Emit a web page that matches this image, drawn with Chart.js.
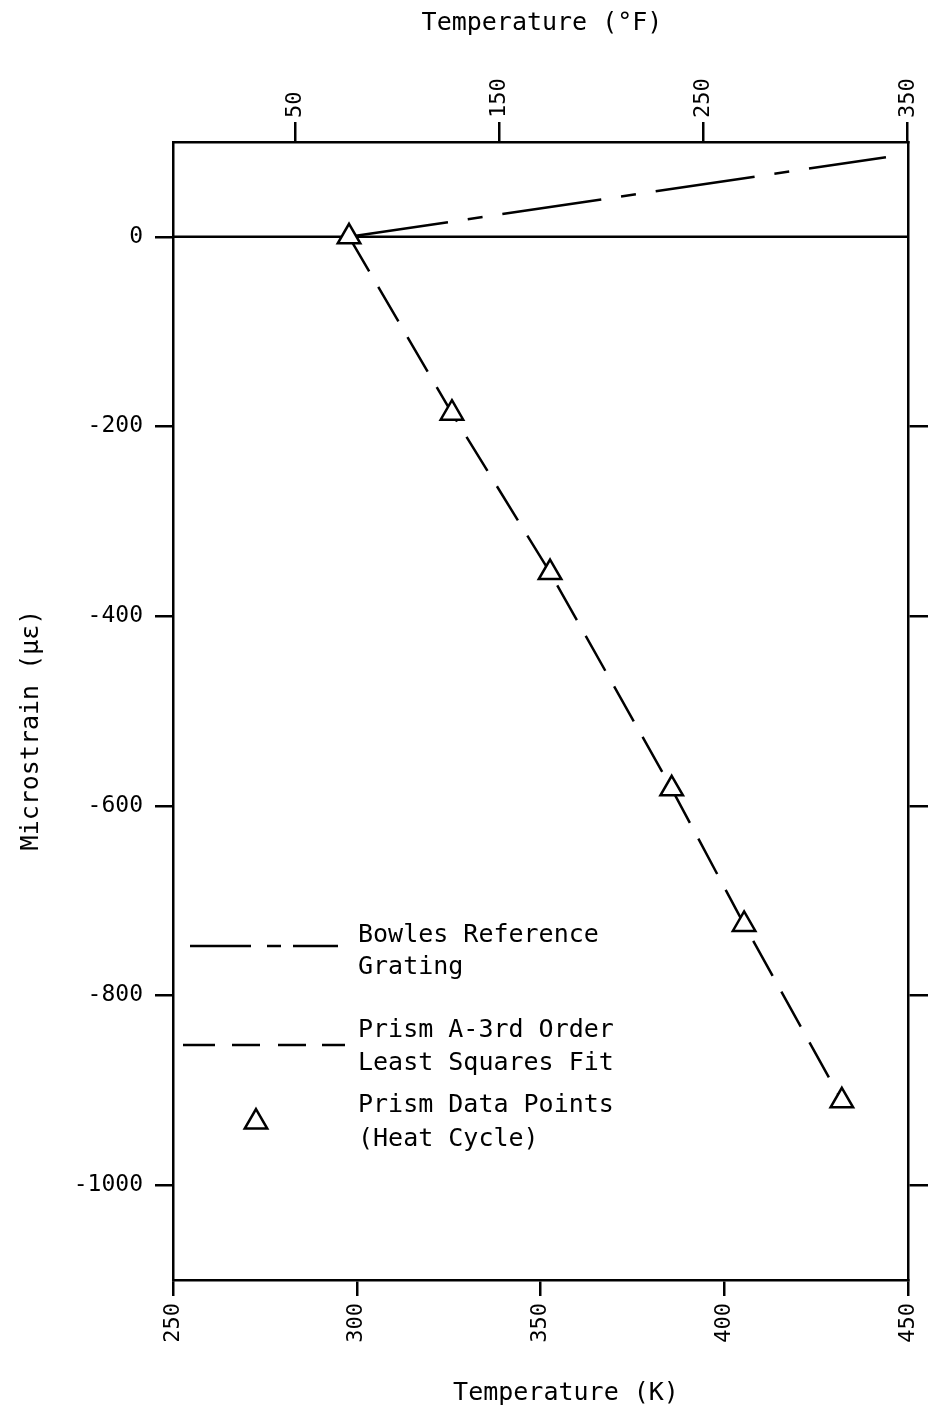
<!DOCTYPE html>
<html>
<head>
<meta charset="utf-8">
<script src="https://cdn.jsdelivr.net/npm/chart.js@4/dist/chart.umd.min.js"></script>
<style>
  html, body { margin: 0; padding: 0; background: #fff; }
  #wrap { width: 928px; height: 1413px; }
</style>
</head>
<body>
<div id="wrap"><canvas id="c" width="928" height="1413"></canvas></div>
<script>
// ---- data ----
const prismK      = [297.9, 325.9, 352.6, 385.7, 405.4, 432.0];
const prismStrain = [0, -186, -354, -582, -725, -911];

const fitK        = [297.9, 325.9, 352.6, 385.7, 405.4, 432.0];
const fitStrain   = [0, -186, -354, -582, -725, -911];

const bowlesK      = [297.9, 444.0];
const bowlesStrain = [0, 84];

const zeroK      = [250, 450];
const zeroStrain = [0, 0];

const yTicksLeft  = [0, -200, -400, -600, -800, -1000];
const yTicksRight = [-200, -400, -600, -800, -1000];
const xTicksK     = [250, 300, 350, 400, 450];
const xTicksF     = [50, 150, 250, 350];

const xTitleBottom = 'Temperature (K)';
const xTitleTop    = 'Temperature (°F)';
const yTitle       = 'Microstrain (με)';
const legendItems  = [
  ['Bowles Reference', 'Grating'],
  ['Prism A-3rd Order', 'Least Squares Fit'],
  ['Prism Data Points', '(Heat Cycle)']
];

const K_MIN = 250, K_MAX = 450;
const kToF = k => (k - 273.15) * 9 / 5 + 32;

const FONT = '"DejaVu Sans Mono", "Liberation Mono", monospace';
const pts = (xs, ys) => xs.map((x, i) => ({ x: x, y: ys[i] }));

const decor = {
  id: 'decor',
  afterDraw(chart) {
    const ctx = chart.ctx;
    ctx.save();
    ctx.fillStyle = '#000';
    ctx.strokeStyle = '#000';
    ctx.font = '25px ' + FONT;
    ctx.textBaseline = 'middle';
    // axis titles
    ctx.textAlign = 'center';
    ctx.fillText(xTitleTop, 542, 23);
    ctx.fillText(xTitleBottom, 566, 1393);
    ctx.save();
    ctx.translate(31, 730);
    ctx.rotate(-Math.PI / 2);
    ctx.fillText(yTitle, 0, 0);
    ctx.restore();

    // legend
    ctx.textAlign = 'left';
    const tx = 358;
    ctx.fillText(legendItems[0][0], tx, 935);
    ctx.fillText(legendItems[0][1], tx, 967);
    ctx.fillText(legendItems[1][0], tx, 1030);
    ctx.fillText(legendItems[1][1], tx, 1063);
    ctx.fillText(legendItems[2][0], tx, 1105);
    ctx.fillText(legendItems[2][1], tx, 1139);

    ctx.lineWidth = 2.5;
    // Bowles sample: long - short - long
    ctx.beginPath();
    ctx.moveTo(190, 946); ctx.lineTo(251, 946);
    ctx.moveTo(267, 946); ctx.lineTo(281, 946);
    ctx.moveTo(293, 946); ctx.lineTo(338, 946);
    ctx.stroke();
    // Prism fit sample: dashes
    ctx.beginPath();
    [[183, 215], [232, 260], [278, 306], [322, 345]].forEach(s => {
      ctx.moveTo(s[0], 1045); ctx.lineTo(s[1], 1045);
    });
    ctx.stroke();
    // triangle sample
    const cx = 256, cy = 1122, r = 13;
    ctx.beginPath();
    ctx.moveTo(cx, cy - r);
    ctx.lineTo(cx + r * Math.sin(2 * Math.PI / 3), cy - r * Math.cos(2 * Math.PI / 3));
    ctx.lineTo(cx + r * Math.sin(4 * Math.PI / 3), cy - r * Math.cos(4 * Math.PI / 3));
    ctx.closePath();
    ctx.fillStyle = '#fff';
    ctx.fill();
    ctx.stroke();
    ctx.restore();
  }
};

const tickGrid = (len) => ({
  drawOnChartArea: false,
  drawTicks: true,
  tickLength: len,
  tickWidth: 2.5,
  lineWidth: 2.5,
  color: '#000'
});
const border = { display: true, color: '#000', width: 2.5 };
const noPad = s => { s.paddingLeft = 0; s.paddingRight = 0; s.paddingTop = 0; s.paddingBottom = 0; };

new Chart(document.getElementById('c'), {
  type: 'scatter',
  data: {
    datasets: [
      {
        label: 'Prism Data Points (Heat Cycle)',
        data: pts(prismK, prismStrain),
        showLine: false,
        pointStyle: 'triangle',
        pointRadius: 13,
        pointHoverRadius: 13,
        pointBorderWidth: 2.5,
        pointBackgroundColor: '#fff',
        pointBorderColor: '#000'
      },
      {
        label: 'Prism A-3rd Order Least Squares Fit',
        data: pts(fitK, fitStrain),
        showLine: true,
        pointRadius: 0,
        borderColor: '#000',
        borderWidth: 2.5,
        borderDash: [40, 18],
        tension: 0
      },
      {
        label: 'Bowles Reference Grating',
        data: pts(bowlesK, bowlesStrain),
        showLine: true,
        pointRadius: 0,
        borderColor: '#000',
        borderWidth: 2.5,
        borderDash: [100, 20, 15, 20]
      },
      {
        label: 'zero',
        data: pts(zeroK, zeroStrain),
        showLine: true,
        pointRadius: 0,
        borderColor: '#000',
        borderWidth: 2.5
      }
    ]
  },
  options: {
    responsive: false,
    animation: false,
    events: [],
    layout: { padding: 0 },
    plugins: { legend: { display: false }, tooltip: { enabled: false } },
    scales: {
      x: {
        type: 'linear', position: 'bottom',
        min: K_MIN, max: K_MAX,
        afterBuildTicks: s => { s.ticks = xTicksK.map(v => ({ value: v })); },
        afterFit: s => { s.height = 133; noPad(s); },
        grid: tickGrid(16), border: border,
        ticks: {
          autoSkip: false, minRotation: 90, maxRotation: 90, padding: 7,
          color: '#000', font: { family: FONT, size: 22 },
          callback: v => String(v)
        }
      },
      xF: {
        type: 'linear', position: 'top',
        min: kToF(K_MIN), max: kToF(K_MAX),
        afterBuildTicks: s => { s.ticks = xTicksF.map(v => ({ value: v })); },
        afterFit: s => { s.height = 142; noPad(s); },
        grid: tickGrid(20), border: border,
        ticks: {
          autoSkip: false, minRotation: 90, maxRotation: 90, padding: 4, labelOffset: 27,
          color: '#000', font: { family: FONT, size: 22 },
          callback: v => String(v)
        }
      },
      y: {
        type: 'linear', position: 'left',
        min: -1100, max: 100,
        afterBuildTicks: s => { s.ticks = yTicksLeft.map(v => ({ value: v })); },
        afterFit: s => { s.width = 173; noPad(s); },
        grid: tickGrid(18), border: border,
        ticks: {
          padding: 12, color: '#000', font: { family: FONT, size: 23 },
          callback: v => String(v)
        }
      },
      yR: {
        type: 'linear', position: 'right',
        min: -1100, max: 100,
        afterBuildTicks: s => { s.ticks = yTicksRight.map(v => ({ value: v })); },
        afterFit: s => { s.width = 20; noPad(s); },
        grid: tickGrid(20), border: border,
        ticks: { padding: 0, font: { family: FONT, size: 22 }, callback: () => '' }
      }
    }
  },
  plugins: [decor]
});
</script>
</body>
</html>
